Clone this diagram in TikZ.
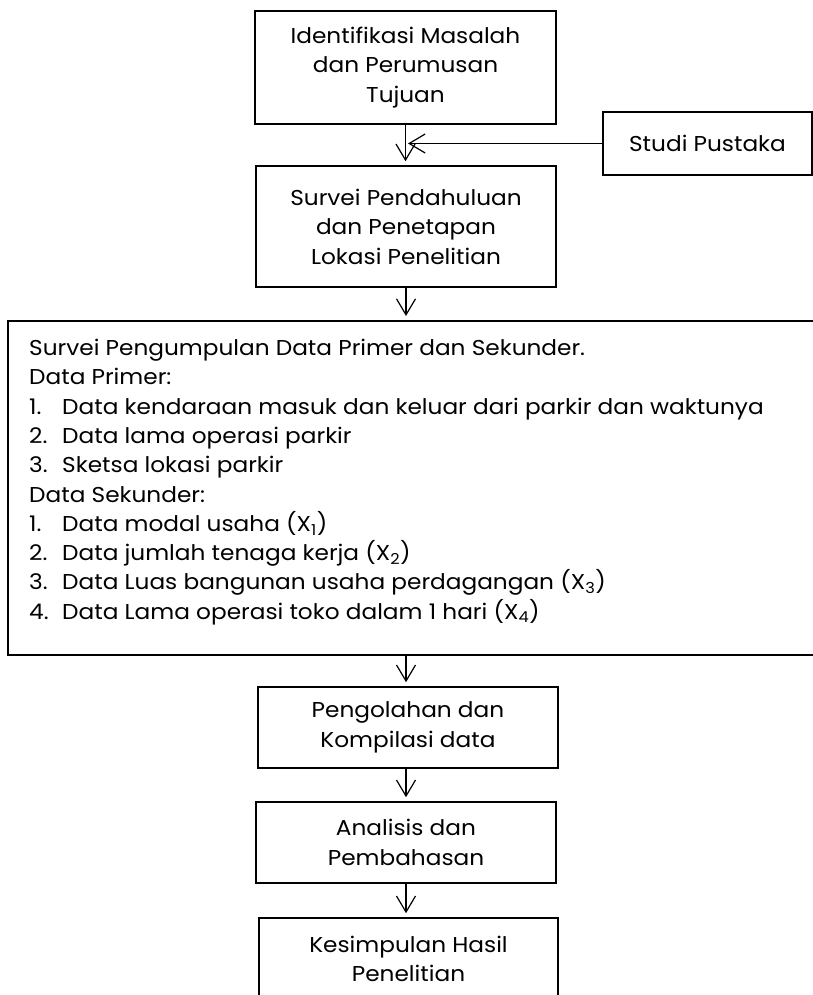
\documentclass[tikz,border=0pt]{standalone}
\usepackage{fontspec}
\setmainfont{Poppins}[FakeStretch=1.08]
\usetikzlibrary{arrows.meta}
\tikzset{
  box/.style={draw=black, line width=1.6pt, rectangle, inner sep=0pt, align=center,
              font=\fontsize{21.5}{29.5}\selectfont},
  arr/.style={draw=black, line width=1.2pt,
              -{Straight Barb[length=16pt,width=19pt,line width=1.2pt]}, shorten >=4pt},
  txt/.style={inner sep=0pt, align=left, font=\fontsize{21.5}{29.3}\selectfont}
}
\newcommand{\itm}[1]{\makebox[33pt][l]{#1}}
\begin{document}
\begin{tikzpicture}[x=1pt,y=-1pt]
\path[use as bounding box] (0,0) rectangle (813,995);
\clip (0,0) rectangle (813,995);
\node[box, minimum width=301pt, minimum height=113pt] (b1) at (405.5,67.5)
  {Identifikasi Masalah\\dan Perumusan\\Tujuan};
\node[box, minimum width=209pt, minimum height=63pt] (sp) at (707.5,143.5)
  {Studi Pustaka};
\node[box, minimum width=300pt, minimum height=121pt] (b2) at (406,226.5)
  {Survei Pendahuluan\\dan Penetapan\\Lokasi Penelitian};
\node[box, line width=2pt, minimum width=822pt, minimum height=334pt] (big) at (419,488) {};
\node[txt, anchor=north west] (bigtext) at (29,339)
  {Survei Pengumpulan Data Primer dan Sekunder.\\
   Data Primer:\\
   \itm{1.}Data kendaraan masuk dan keluar dari parkir dan waktunya\\
   \itm{2.}Data lama operasi parkir\\
   \itm{3.}Sketsa lokasi parkir\\
   Data Sekunder:\\
   \itm{1.}Data modal usaha (X\textsubscript{1})\\
   \itm{2.}Data jumlah tenaga kerja (X\textsubscript{2})\\
   \itm{3.}Data Luas bangunan usaha perdagangan (X\textsubscript{3})\\
   \itm{4.}Data Lama operasi toko dalam 1 hari (X\textsubscript{4})};
\node[box, minimum width=300pt, minimum height=81pt] (p1) at (408,727.5)
  {Pengolahan dan\\Kompilasi data};
\node[box, minimum width=300pt, minimum height=81pt] (p2) at (406,842.5)
  {Analisis dan\\Pembahasan};
\node[box, minimum width=299pt, minimum height=82pt] (p3) at (408.5,959)
  {Kesimpulan Hasil\\Penelitian};
\draw[arr] (b1.south) -- (b1.south |- b2.north);
\draw[arr, shorten >=2.5pt] (sp.west) -- (sp.west -| b1.south);
\draw[arr] (b2.south) -- (b2.south |- big.north);
\draw[arr] (big.south -| p2.north) -- (p1.north -| p2.north);
\draw[arr] (p1.south -| p2.north) -- (p2.north);
\draw[arr] (p2.south) -- (p2.south |- p3.north);
\end{tikzpicture}
\end{document}
